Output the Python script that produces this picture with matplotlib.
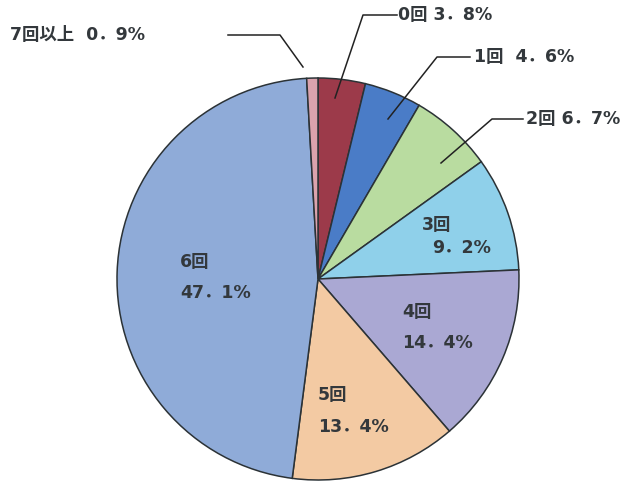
import matplotlib.pyplot as plt

plt.rcParams['font.family'] = ['DejaVu Sans', 'Noto Sans CJK JP']

labels = ['0回', '1回', '2回', '3回', '4回', '5回', '6回', '7回以上']
values = [3.8, 4.6, 6.7, 9.2, 14.4, 13.4, 47.1, 0.9]
colors = ['#9c3a4a', '#4a7cc7', '#b9dca0', '#8fd0ea', '#aaa8d3', '#f3caa3', '#8fabd8', '#dba3ad']

def pct(v):
    return f'{v:.1f}'.replace('.', '．') + '%'

fig = plt.figure(figsize=(6.38, 4.82), dpi=100)
ax = fig.add_axes([0, 0, 1, 1])

# y axis is flipped, so counterclock in data reads clockwise on screen
ax.pie(values, colors=colors, center=(318, 279), radius=201,
       startangle=-90, counterclock=True, frame=True,
       wedgeprops=dict(edgecolor='#2b3236', linewidth=1.1))
ax.set_xlim(0, 638)
ax.set_ylim(482, 0)
ax.set_aspect('equal')
ax.axis('off')

tc = '#33383c'
fs = 12.5
fw = 'bold'

# labels outside with leader lines
outside = {
    0: ((398, 15), [(335, 98), (363, 15), (397, 15)], ' '),
    1: ((474, 57), [(388, 119), (437, 57), (470, 57)], '  '),
    2: ((526, 119), [(441, 163), (492, 119), (523, 119)], ' '),
    7: ((10, 35), [(303, 67), (280, 35), (228, 35)], '  '),
}
for i, (pos, pts, gap) in outside.items():
    xs, ys = zip(*pts)
    ax.plot(xs, ys, color='#222', lw=1.1)
    ax.text(pos[0], pos[1], labels[i] + gap + pct(values[i]),
            fontsize=fs, fontweight=fw, color=tc, va='center', ha='left')

# labels inside slices
inside = {3: (422, 225, 432, 248), 4: (402, 312, 402, 343),
          5: (318, 395, 318, 427), 6: (180, 262, 180, 293)}
for i, (x1, y1, x2, y2) in inside.items():
    ax.text(x1, y1, labels[i], fontsize=fs, fontweight=fw, color=tc, va='center', ha='left')
    ax.text(x2, y2, pct(values[i]), fontsize=fs, fontweight=fw, color=tc, va='center', ha='left')

fig.savefig('out.png', dpi=100)
